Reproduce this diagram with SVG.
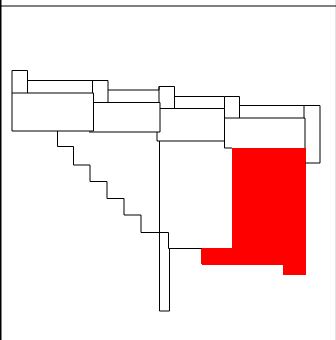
<svg xmlns="http://www.w3.org/2000/svg" width="336" height="340" viewBox="0 0 336 340">
<style>
.l{fill:none;stroke:#000;stroke-width:1}
</style>
<rect width="336" height="340" fill="#fff"/>
<path d="M335.5 0V340" fill="none" stroke="#e4e4e4" stroke-width="1"/>
<path d="M0 6H336" fill="none" stroke="#000" stroke-width="1"/>
<path d="M0.75 0V340" fill="none" stroke="#000" stroke-width="1.5"/>
<path id="red" fill="#f00" d="M232 148H306V275H283V265H202V264H201V248H232Z"/>
<g id="shapes">
<path class="l" d="M12 93V70.500H27.500V93"/>
<path class="l" d="M12 93H93.500V131H12Z"/>
<path class="l" d="M27.500 80.500H108V102.500M92.500 80.500V93"/>
<path class="l" d="M93.500 102.500H160V132H89"/>
<path class="l" d="M108 90H159V86.500H174.500V108.500M159 86.500V102.500"/>
<path class="l" d="M160 108.500H224.500V96.500H239.500V118M174.500 96.500H224.500"/>
<path class="l" d="M157 132V141H224.500"/>
<path class="l" d="M224.500 108.500V148H232M224.500 118H305V148"/>
<path class="l" d="M239.500 105.500H320V163H305M304 105.500V118"/>
<path class="l" d="M57.500 131V146.500H73.500V165H90V181.500H107V198.500H124V215H141V232.500H168.500V248.500H202"/>
<path class="l" d="M159.500 141V311H169.500V248"/>
</g>
</svg>
